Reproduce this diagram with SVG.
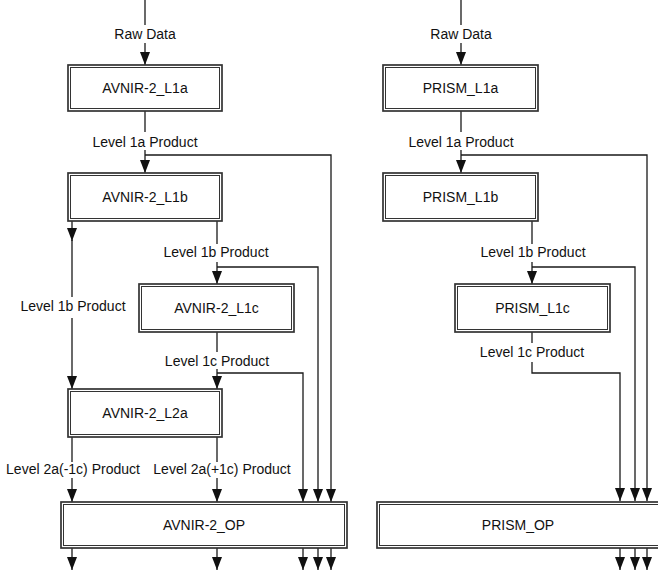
<svg xmlns="http://www.w3.org/2000/svg" width="658" height="573" viewBox="0 0 658 573">
<defs>
<style>
.box-o{fill:#fff;stroke:#333;stroke-width:1.7}
.box-i{fill:none;stroke:#333;stroke-width:1}
.t{font-family:"Liberation Sans",Arial,sans-serif;font-size:14px;fill:#111;text-anchor:middle}
.c{fill:none;stroke:#1a1a1a;stroke-width:1.3}
.a{fill:none;stroke:#1a1a1a;stroke-width:1.3;marker-end:url(#ah)}
</style>
<marker id="ah" markerUnits="userSpaceOnUse" markerWidth="13" markerHeight="10" refX="13" refY="5" orient="auto" viewBox="0 0 13 10" overflow="visible">
<path d="M0,0 L13,5 L0,10 z" fill="#111"/>
</marker>
</defs>
<rect width="658" height="573" fill="#fff"/>

<g id="connectors">
<!-- AVNIR side -->
<line class="c" x1="145" y1="0" x2="145" y2="25"/>
<line class="a" x1="145" y1="43" x2="145" y2="65"/>
<text class="t" x="145" y="39">Raw Data</text>
<line class="c" x1="145" y1="111" x2="145" y2="132"/>
<text class="t" x="145" y="147">Level 1a Product</text>
<line class="a" x1="145" y1="150" x2="145" y2="173"/>
<path class="a" d="M145,155 H331 V502"/>
<line class="a" x1="72" y1="221" x2="72" y2="241"/>
<line class="c" x1="72" y1="240" x2="72" y2="297"/>
<text class="t" x="73" y="311">Level 1b Product</text>
<line class="a" x1="72" y1="318" x2="72" y2="389"/>
<line class="c" x1="217" y1="221" x2="217" y2="244"/>
<text class="t" x="216" y="257">Level 1b Product</text>
<line class="a" x1="217" y1="262" x2="217" y2="284"/>
<path class="a" d="M217,267 H318 V502"/>
<line class="c" x1="217" y1="332" x2="217" y2="352"/>
<text class="t" x="217" y="366">Level 1c Product</text>
<line class="a" x1="217" y1="369" x2="217" y2="389"/>
<path class="a" d="M217,373 H303 V502"/>
<line class="c" x1="72" y1="437" x2="72" y2="462"/>
<text class="t" x="73" y="474">Level 2a(-1c) Product</text>
<line class="a" x1="72" y1="478" x2="72" y2="502"/>
<line class="c" x1="217" y1="437" x2="217" y2="462"/>
<text class="t" x="222" y="474">Level 2a(+1c) Product</text>
<line class="a" x1="217" y1="478" x2="217" y2="502"/>
<line class="a" x1="72" y1="548" x2="72" y2="570"/>
<line class="a" x1="217" y1="548" x2="217" y2="570"/>
<line class="a" x1="303" y1="548" x2="303" y2="570"/>
<line class="a" x1="318" y1="548" x2="318" y2="570"/>
<line class="a" x1="331" y1="548" x2="331" y2="570"/>

<!-- PRISM side -->
<line class="c" x1="461" y1="0" x2="461" y2="25"/>
<line class="a" x1="461" y1="43" x2="461" y2="65"/>
<text class="t" x="461" y="39">Raw Data</text>
<line class="c" x1="461" y1="111" x2="461" y2="132"/>
<text class="t" x="461" y="147">Level 1a Product</text>
<line class="a" x1="461" y1="150" x2="461" y2="173"/>
<path class="a" d="M461,155 H647 V501"/>
<line class="c" x1="532" y1="221" x2="532" y2="244"/>
<text class="t" x="533" y="257">Level 1b Product</text>
<line class="a" x1="532" y1="262" x2="532" y2="284"/>
<path class="a" d="M532,267 H635 V501"/>
<line class="c" x1="532" y1="332" x2="532" y2="343"/>
<text class="t" x="532" y="357">Level 1c Product</text>
<path class="a" d="M532,362 V373 H620 V501"/>
<line class="a" x1="620" y1="548" x2="620" y2="570"/>
<line class="a" x1="635" y1="548" x2="635" y2="570"/>
<line class="a" x1="647" y1="548" x2="647" y2="570"/>
</g>

<g id="avnir_l1a">
<rect class="box-o" x="68" y="65" width="154" height="46"/>
<rect class="box-i" x="70.5" y="67.5" width="149" height="41"/>
<text class="t" x="145" y="93">AVNIR-2_L1a</text>
</g>
<g id="avnir_l1b">
<rect class="box-o" x="68" y="173" width="154" height="48"/>
<rect class="box-i" x="70.5" y="175.5" width="149" height="43"/>
<text class="t" x="145" y="202">AVNIR-2_L1b</text>
</g>
<g id="avnir_l1c">
<rect class="box-o" x="139" y="284" width="155" height="48"/>
<rect class="box-i" x="141.5" y="286.5" width="150" height="43"/>
<text class="t" x="216.5" y="313">AVNIR-2_L1c</text>
</g>
<g id="avnir_l2a">
<rect class="box-o" x="68" y="389" width="154" height="48"/>
<rect class="box-i" x="70.5" y="391.5" width="149" height="43"/>
<text class="t" x="145" y="418">AVNIR-2_L2a</text>
</g>
<g id="avnir_op">
<rect class="box-o" x="61" y="502" width="286" height="46"/>
<rect class="box-i" x="63.5" y="504.5" width="281" height="41"/>
<text class="t" x="204" y="530">AVNIR-2_OP</text>
</g>

<g id="prism_l1a">
<rect class="box-o" x="383" y="65" width="155" height="46"/>
<rect class="box-i" x="385.5" y="67.5" width="150" height="41"/>
<text class="t" x="460.5" y="93">PRISM_L1a</text>
</g>
<g id="prism_l1b">
<rect class="box-o" x="383" y="173" width="155" height="48"/>
<rect class="box-i" x="385.5" y="175.5" width="150" height="43"/>
<text class="t" x="460.5" y="202">PRISM_L1b</text>
</g>
<g id="prism_l1c">
<rect class="box-o" x="455" y="284" width="155" height="48"/>
<rect class="box-i" x="457.5" y="286.5" width="150" height="43"/>
<text class="t" x="532.5" y="313">PRISM_L1c</text>
</g>
<g id="prism_op">
<rect class="box-o" x="377" y="502" width="286" height="46"/>
<rect class="box-i" x="379.5" y="504.5" width="281" height="41"/>
<text class="t" x="518" y="530">PRISM_OP</text>
</g>
</svg>
